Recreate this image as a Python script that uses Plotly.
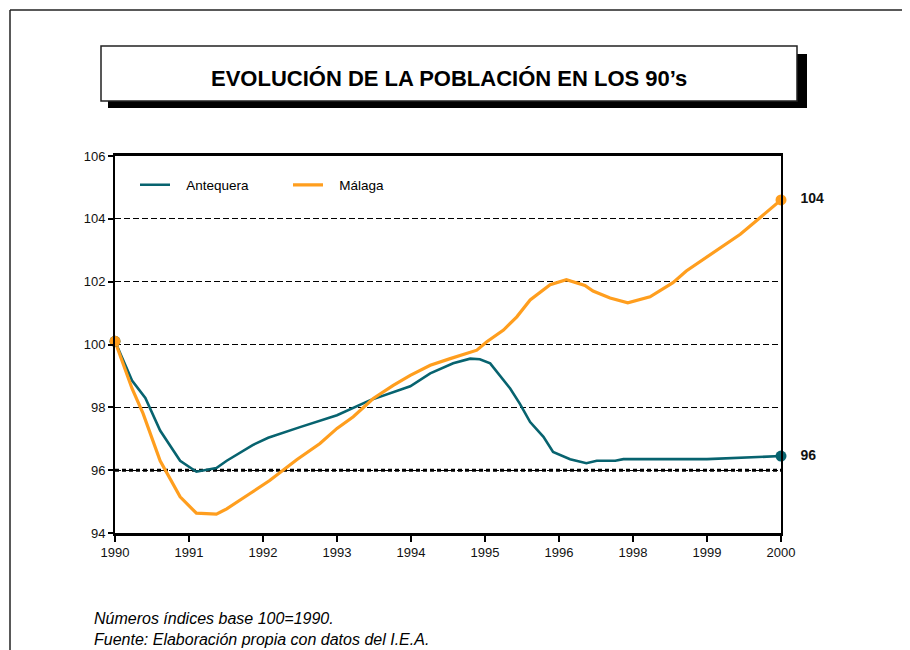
import plotly.graph_objects as go

# ---------------- data ----------------
# Category axis: position 0 = 1990 ... 9 = 2000 (1997 is not on the axis)
year_labels = ["1990", "1991", "1992", "1993", "1994", "1995", "1996", "1998", "1999", "2000"]
year_positions = [0, 1, 2, 3, 4, 5, 6, 7, 8, 9]

# Antequera: position along the category axis and index value
antequera_pos = [0, 0.23, 0.41, 0.61, 0.88, 1.10, 1.37, 1.51, 1.86, 2.07, 2.50, 3.00,
                 3.45, 3.99, 4.26, 4.57, 4.80, 4.93, 5.07, 5.34, 5.47, 5.61, 5.79,
                 5.92, 6.15, 6.37, 6.51, 6.76, 6.87, 8.00, 9.00]
antequera_val = [100.1, 98.85, 98.3, 97.26, 96.3, 95.95, 96.07, 96.3, 96.8, 97.03, 97.37, 97.75,
                 98.23, 98.67, 99.08, 99.4, 99.55, 99.53, 99.4, 98.6, 98.12, 97.53, 97.06,
                 96.58, 96.35, 96.22, 96.3, 96.3, 96.35, 96.35, 96.45]

# Málaga
malaga_pos = [0, 0.23, 0.38, 0.61, 0.88, 1.10, 1.37, 1.51, 1.82, 2.09, 2.46, 2.77, 3.00,
              3.22, 3.49, 3.76, 3.99, 4.26, 4.53, 4.89, 5.02, 5.25, 5.43, 5.61, 5.88,
              6.10, 6.35, 6.46, 6.69, 6.93, 7.23, 7.36, 7.54, 7.72, 7.99, 8.45, 9.00]
malaga_val = [100.1, 98.6, 97.8, 96.3, 95.15, 94.63, 94.6, 94.77, 95.25, 95.67, 96.34, 96.85, 97.33,
              97.7, 98.28, 98.7, 99.02, 99.34, 99.55, 99.82, 100.08, 100.46, 100.88, 101.42, 101.9,
              102.06, 101.88, 101.7, 101.48, 101.33, 101.52, 101.7, 101.97, 102.34, 102.77, 103.51, 104.6]

end_labels = {"Antequera": "96", "Málaga": "104"}
y_ticks = [94, 96, 98, 100, 102, 104, 106]
reference_level = 96

title_text = "EVOLUCIÓN DE LA POBLACIÓN EN LOS 90’s"
note_lines = ["Números índices base 100=1990.", "Fuente: Elaboración propia con datos del I.E.A."]

TEAL = "#07636F"
ORANGE = "#FF9E1E"
FONT = "Liberation Sans, Arial, sans-serif"
NBSP = "\u00a0"

# ---------------- layout geometry (screen pixels of the page) ----------------
FW, FH = 910, 650
OFF = 8  # page body margin in the browser
L, R, T, B = 115, 781, 156, 533
W, H = R - L, B - T


def px(x):
    return (x - L) / W


def py(y):
    return (B - y) / H


fig = go.Figure()

series = [("Antequera", antequera_pos, antequera_val, TEAL, 2.6),
          ("Málaga", malaga_pos, malaga_val, ORANGE, 3.2)]

for name, xs, ys, col, lw in series:
    fig.add_trace(go.Scatter(x=xs, y=ys, mode="lines", name=NBSP * 3 + name,
                             line=dict(color=col, width=lw), showlegend=True))

for name, xs, ys, col, lw in series:
    fig.add_trace(go.Scatter(x=[xs[0], xs[-1]], y=[ys[0], ys[-1]], mode="markers+text",
                             marker=dict(color=col, size=11),
                             text=["", NBSP * 3 + end_labels[name]],
                             texttemplate="<b>%{text}</b>",
                             textposition="middle right",
                             textfont=dict(family=FONT, size=14, color="#111111"),
                             cliponaxis=False, showlegend=False, hoverinfo="skip"))

shapes = []
# outer frame
shapes.append(dict(type="line", xref="paper", yref="paper", x0=px(10), x1=px(FW + 20), y0=py(10), y1=py(10),
                   line=dict(color="#222222", width=1.5)))
shapes.append(dict(type="line", xref="paper", yref="paper", x0=px(10), x1=px(10), y0=py(10), y1=py(FH + 20),
                   line=dict(color="#222222", width=1.5)))
# title box shadow and box
shapes.append(dict(type="rect", xref="paper", yref="paper", x0=px(108), x1=px(807), y0=py(108), y1=py(54),
                   fillcolor="#000000", line=dict(width=0)))
shapes.append(dict(type="rect", xref="paper", yref="paper", x0=px(101), x1=px(797), y0=py(101), y1=py(46),
                   fillcolor="#FFFFFF", line=dict(color="#222222", width=1.5)))
# thick dotted reference line at 96
shapes.append(dict(type="line", xref="paper", yref="y", x0=0, x1=1, y0=reference_level, y1=reference_level,
                   layer="below", line=dict(color="#000000", width=3, dash="4px,3px")))

annotations = [
    dict(text="<b>" + title_text + "</b>", xref="paper", yref="paper", x=px(449), y=py(78),
         xanchor="center", yanchor="middle", showarrow=False,
         font=dict(family=FONT, size=22, color="#000000")),
    dict(text="<i>" + note_lines[0] + "<br>" + note_lines[1] + "</i>", xref="paper", yref="paper",
         x=px(92), y=py(629), xanchor="left", yanchor="middle", align="left", showarrow=False,
         font=dict(family=FONT, size=16, color="#000000")),
]

fig.update_layout(
    width=FW, height=FH,
    margin=dict(l=L - OFF, r=FW - (R - OFF), t=T - OFF, b=FH - (B - OFF), pad=0),
    paper_bgcolor="white", plot_bgcolor="white",
    font=dict(family=FONT, size=12, color="#000000"),
    shapes=shapes, annotations=annotations,
    showlegend=True,
    legend=dict(orientation="h", x=px(135), y=py(185), xanchor="left", yanchor="middle",
                entrywidth=108, entrywidthmode="pixels",
                font=dict(family=FONT, size=13.5, color="#000000"),
                bgcolor="rgba(0,0,0,0)", borderwidth=0),
)

fig.update_xaxes(range=[0, 9], tickmode="array", tickvals=year_positions, ticktext=year_labels,
                 showgrid=False, zeroline=False, showline=True, linecolor="#000000", linewidth=2.5,
                 mirror=True, ticks="outside", ticklen=6, tickwidth=1.5, tickcolor="#000000",
                 tickfont=dict(family=FONT, size=13, color="#111111"))
fig.update_yaxes(range=[94, 106], tickmode="array", tickvals=y_ticks,
                 showgrid=True, gridcolor="#000000", gridwidth=1, griddash="6px,3px",
                 zeroline=False, showline=True, linecolor="#000000", linewidth=2,
                 mirror=True, ticks="outside", ticklen=5, tickwidth=1.5, tickcolor="#000000",
                 tickfont=dict(family=FONT, size=13, color="#111111"))

fig.write_html("out.html")
